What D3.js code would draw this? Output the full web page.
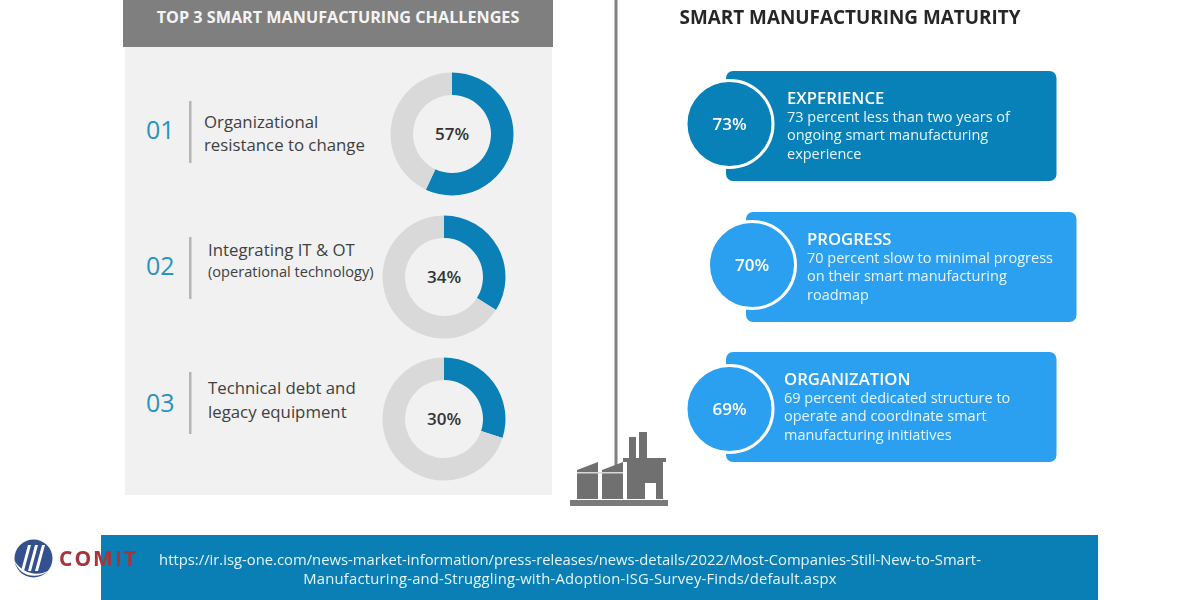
<!DOCTYPE html>
<html><head><meta charset="utf-8">
<script src="https://cdn.jsdelivr.net/npm/d3@7/dist/d3.min.js"></script>
<style>html,body{margin:0;padding:0;background:#fff;overflow:hidden}svg{display:block;filter:blur(0.45px)}text{font-family:"Open Sans",sans-serif}</style>
</head><body><svg id="c" width="1200" height="600"></svg>
<script>
const challengeNumbers = ["01","02","03"];
const challengeLines = [["Organizational","resistance to change"],["Integrating IT & OT","(operational technology)"],["Technical debt and","legacy equipment"]];
const challengeValues = [57,34,30];
const maturityTitles = ["EXPERIENCE","PROGRESS","ORGANIZATION"];
const maturityValues = [73,70,69];
const maturityLines = [["73 percent less than two years of","ongoing smart manufacturing","experience"],["70 percent slow to minimal progress","on their smart manufacturing","roadmap"],["69 percent dedicated structure to","operate and coordinate smart","manufacturing initiatives"]];
const urlLines = ["https://ir.isg-one.com/news-market-information/press-releases/news-details/2022/Most-Companies-Still-New-to-Smart-","Manufacturing-and-Struggling-with-Adoption-ISG-Survey-Finds/default.aspx"];

const svg = d3.select("#c");
const rect=(x,y,w,h,f,r=0)=>svg.append("rect").attr("x",x).attr("y",y).attr("width",w).attr("height",h).attr("fill",f).attr("rx",r);
const text=(x,y,s,size,fill,weight=400,anchor="start")=>svg.append("text").attr("x",x).attr("y",y).text(s).attr("font-size",size).attr("fill",fill).attr("font-weight",weight).attr("text-anchor",anchor);

// left panel
rect(125,47,427,448,"#f1f1f1");
rect(123,0,430,47,"#7f7f7f");
text(338,23,"TOP 3 SMART MANUFACTURING CHALLENGES",16.2,"#f4f4f4",700,"middle");
// divider
rect(614.5,0,3,466,"#808080");

const rowY=[134,277,419], donutX=[452,444,444];
const numY=[139,275,412], numX=[146,146,146];
const barX=[190,190,190], barY=[[101,163],[237,299],[372,434]];
const txtX=[204,208,208];
const txtY=[[128,151],[256,277],[394,418]];
const txtSize=[[16.8,16.8],[16.8,14.6],[16.8,16.8]];
const arc=d3.arc().innerRadius(39).outerRadius(61.5);
challengeValues.forEach((v,i)=>{
  text(numX[i],numY[i],challengeNumbers[i],25,"#2a92bf",400);
  rect(barX[i]-1,barY[i][0],2.5,barY[i][1]-barY[i][0],"#b5b5b5");
  challengeLines[i].forEach((l,j)=>text(txtX[i],txtY[i][j],l,txtSize[i][j],"#404040"));
  const g=svg.append("g").attr("transform",`translate(${donutX[i]},${rowY[i]})`);
  const pie=d3.pie().sort(null)([v,100-v]);
  g.selectAll("path").data(pie).join("path").attr("d",arc).attr("fill",(d,k)=>k?"#d9d9d9":"#0a80b6");
  g.append("text").attr("y",6).attr("text-anchor","middle").attr("font-size",17).attr("font-weight",600).attr("fill","#333").text(v+"%");
});

// right
text(850,24,"SMART MANUFACTURING MATURITY",18.9,"#262626",700,"middle");
const cardX=[726,746,726], cardY=[71,212,352], cardFill=["#0880b8","#2ca0f0","#2ca0f0"];
const circX=[729.5,752,729.5], circY=[124,265,409], circFill=cardFill;
const tX=[787,807,784];
maturityValues.forEach((v,i)=>{
  rect(cardX[i],cardY[i],330.5,110,cardFill[i],7);
  svg.append("circle").attr("cx",circX[i]).attr("cy",circY[i]).attr("r",43.5).attr("fill",circFill[i]).attr("stroke","#fff").attr("stroke-width",3);
  text(circX[i],circY[i]+6,v+"%",17,"#fff",600,"middle");
  text(tX[i],cardY[i]+33,maturityTitles[i],16.7,"#fff",600);
  maturityLines[i].forEach((l,j)=>text(tX[i],cardY[i]+51+j*18.3,l,14.5,"#e6f5fc"));
});

// factory
const fac=svg.append("g").attr("fill","#707070");
rect(570,500,98,6,"#7a7a7a");
fac.append("path").attr("d","M577 499V470L598 462V499Z");
fac.append("path").attr("d","M602 499V470L623 462V499Z");
fac.append("path").attr("d","M627 499V461H663V499H656V483H645V499Z");
fac.append("rect").attr("x",629).attr("y",437).attr("width",7).attr("height",21);
fac.append("rect").attr("x",639).attr("y",432).attr("width",8).attr("height",26);
fac.append("rect").attr("x",623).attr("y",458).attr("width",43).attr("height",4);
rect(577,472,46,1.5,"#d8d8d8");

// banner
rect(101,535,997,65,"#0a7fb5");
urlLines.forEach((l,i)=>text(570,i?584:565,l,14.8,"#e6f5fc",500,"middle").attr("letter-spacing",i?0.2:0));

// logo
const lg=svg.append("g");
lg.append("circle").attr("cx",33.5).attr("cy",558.5).attr("r",19).attr("fill","#34508f");
lg.append("path").attr("d","M14 560C18 574 34 582 50 570C38 577 22 574 14 560Z").attr("fill","#fff");
[-8,-1,6].forEach(d=>lg.append("path").attr("d",`M${33+d-4} 571L${33+d+3} 545L${33+d+6} 545L${33+d-1} 571Z`).attr("fill","#fff"));
text(59,566,"COMIT",21,"#a9333a",700).attr("letter-spacing",2);
</script></body></html>
